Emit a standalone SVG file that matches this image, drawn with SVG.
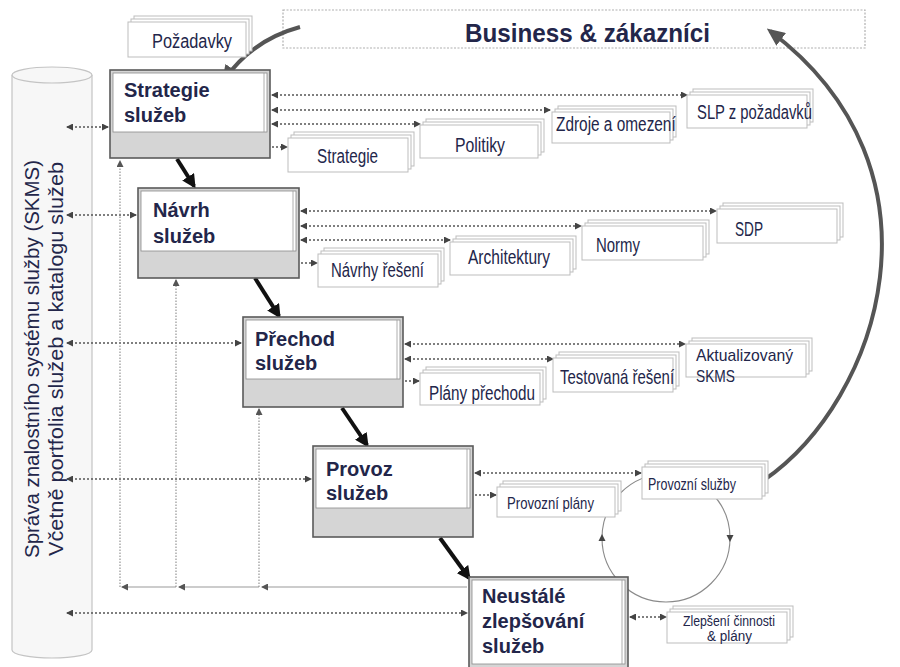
<svg xmlns="http://www.w3.org/2000/svg" width="900" height="667" viewBox="0 0 900 667">
  <style>
    .bg { fill: #ffffff; }
    .cyl { fill: #f7f7f7; stroke: #c4c4c4; stroke-width: 1.2; }
    .cyltext { font-family: "Liberation Sans", "DejaVu Sans", sans-serif; font-size: 21px; fill: #23264a; }
    .proc-outer { fill: #d5d5d5; stroke: #5a5a5a; stroke-width: 1.6; }
    .proc-inner { fill: #ffffff; stroke: #8a8a8a; stroke-width: 0.8; }
    .proc-title { font-family: "Liberation Sans", "Open Sans", sans-serif; font-weight: bold; font-size: 20px; fill: #23264a; }
    .doc { fill: #ffffff; stroke: #bdbdbd; stroke-width: 1; }
    .doclabel { font-family: "Liberation Sans", "DejaVu Sans", sans-serif; font-size: 20px; fill: #23264a; }
    .small { font-size: 17px; }
    .tiny { font-size: 14px; }
    .biz { fill: #ffffff; stroke: #b0b0b0; stroke-width: 1.2; stroke-dasharray: 2 1.5; }
    .biztext { font-family: "Liberation Sans", "Open Sans", sans-serif; font-weight: bold; font-size: 25px; fill: #23264a; }
    .dot { fill: none; stroke: #555555; stroke-width: 1.6; stroke-dasharray: 2 2; }
    .fb { fill: none; stroke: #8a8a8a; stroke-width: 1.1; stroke-dasharray: 1.5 1.5; }
    .fbh { fill: none; stroke: #9a9a9a; stroke-width: 1.1; }
    .flow { fill: none; stroke: #111111; stroke-width: 4; }
    .curve { fill: none; stroke: #555555; stroke-width: 4; }
    .cycle { fill: none; stroke: #8a8a8a; stroke-width: 1.1; }
  </style>
  <defs>
    <marker id="ah" markerUnits="userSpaceOnUse" markerWidth="7" markerHeight="7" refX="6" refY="3.5" orient="auto-start-reverse">
      <path d="M0,0 L7,3.5 L0,7 z" fill="#444444"/>
    </marker>
    <marker id="ahLight" markerUnits="userSpaceOnUse" markerWidth="7" markerHeight="7" refX="6" refY="3.5" orient="auto-start-reverse">
      <path d="M0,0 L7,3.5 L0,7 z" fill="#555555"/>
    </marker>
    <marker id="ahBlack" markerUnits="userSpaceOnUse" markerWidth="14" markerHeight="14" refX="11" refY="7" orient="auto">
      <path d="M0,0 L14,7 L0,14 z" fill="#111111"/>
    </marker>
    <marker id="ahGray" markerUnits="userSpaceOnUse" markerWidth="18" markerHeight="16" refX="14" refY="8" orient="auto">
      <path d="M0,0 L18,8 L0,16 z" fill="#555555"/>
    </marker>
  </defs>

  <rect class="bg" x="0" y="0" width="900" height="667"/>

  <!-- knowledge management store -->
  <g id="skms">
    <path class="cyl" d="M12,75 L12,650 A40,8 0 0 0 92,650 L92,75"/>
    <ellipse class="cyl" cx="52" cy="75" rx="40" ry="8"/>
    <text class="cyltext" transform="translate(39,558) rotate(-90)" textLength="398" lengthAdjust="spacingAndGlyphs">Správa znalostního systému služby (SKMS)</text>
    <text class="cyltext" transform="translate(63,556) rotate(-90)" textLength="394" lengthAdjust="spacingAndGlyphs">Včetně portfolia služeb a katalogu služeb</text>
  </g>

  <!-- business -->
  <g id="business">
    <rect class="biz" x="283" y="10" width="582" height="38"/>
    <text class="biztext" x="465" y="42" textLength="245" lengthAdjust="spacingAndGlyphs">Business &amp; zákazníci</text>
  </g>

  <!-- connectors -->
  <g id="connectors">
    <!-- store links -->
    <line class="dot" x1="67" y1="127" x2="108" y2="127" marker-start="url(#ah)" marker-end="url(#ah)"/>
    <line class="dot" x1="67" y1="215" x2="136" y2="215" marker-start="url(#ah)" marker-end="url(#ah)"/>
    <line class="dot" x1="67" y1="343" x2="241" y2="343" marker-start="url(#ah)" marker-end="url(#ah)"/>
    <line class="dot" x1="67" y1="479" x2="311" y2="479" marker-start="url(#ah)" marker-end="url(#ah)"/>
    <line class="dot" x1="67" y1="613" x2="467" y2="613" marker-start="url(#ah)" marker-end="url(#ah)"/>

    <!-- strategy outputs -->
    <line class="dot" x1="272" y1="95" x2="687" y2="95" marker-start="url(#ah)" marker-end="url(#ah)"/>
    <line class="dot" x1="272" y1="110" x2="550" y2="110" marker-start="url(#ah)" marker-end="url(#ah)"/>
    <line class="dot" x1="272" y1="124" x2="420" y2="124" marker-start="url(#ah)" marker-end="url(#ah)"/>
    <line class="dot" x1="272" y1="147" x2="287" y2="147" marker-end="url(#ah)"/>

    <!-- design outputs -->
    <line class="dot" x1="301" y1="211" x2="716" y2="211" marker-start="url(#ah)" marker-end="url(#ah)"/>
    <line class="dot" x1="301" y1="226" x2="581" y2="226" marker-start="url(#ah)" marker-end="url(#ah)"/>
    <line class="dot" x1="301" y1="240" x2="450" y2="240" marker-start="url(#ah)" marker-end="url(#ah)"/>
    <line class="dot" x1="301" y1="263" x2="317" y2="263" marker-end="url(#ah)"/>

    <!-- transition outputs -->
    <line class="dot" x1="405" y1="344" x2="685" y2="344" marker-start="url(#ah)" marker-end="url(#ah)"/>
    <line class="dot" x1="405" y1="359" x2="553" y2="359" marker-start="url(#ah)" marker-end="url(#ah)"/>
    <line class="dot" x1="405" y1="381" x2="419" y2="381" marker-end="url(#ah)"/>

    <!-- operation outputs -->
    <line class="dot" x1="475" y1="473" x2="641" y2="473" marker-start="url(#ah)" marker-end="url(#ah)"/>
    <line class="dot" x1="475" y1="495" x2="496" y2="495" marker-end="url(#ah)"/>

    <!-- improvement outputs -->
    <line class="dot" x1="630" y1="617" x2="666" y2="617" marker-start="url(#ah)" marker-end="url(#ah)"/>

    <!-- improvement feedback -->
    <line class="fbh" x1="467" y1="587" x2="262" y2="587" marker-end="url(#ahLight)"/>
    <line class="fbh" x1="259" y1="587" x2="179" y2="587" marker-end="url(#ahLight)"/>
    <line class="fbh" x1="176" y1="587" x2="122" y2="587" marker-end="url(#ahLight)"/>
    <line class="fb" x1="120" y1="587" x2="120" y2="161" marker-end="url(#ahLight)"/>
    <line class="fb" x1="176" y1="587" x2="176" y2="280" marker-end="url(#ahLight)"/>
    <line class="fb" x1="259" y1="587" x2="259" y2="409" marker-end="url(#ahLight)"/>

    <!-- operation / improvement cycle -->
    <circle class="cycle" cx="666" cy="538" r="64"/>
    <path d="M602,534 L598.5,541 L605.5,541 z" fill="#444444"/>
    <path d="M730,542 L726.5,535 L733.5,535 z" fill="#444444"/>

    <!-- lifecycle flow -->
    <line class="flow" x1="177" y1="159" x2="194" y2="186" marker-end="url(#ahBlack)"/>
    <line class="flow" x1="255" y1="278" x2="279" y2="316" marker-end="url(#ahBlack)"/>
    <line class="flow" x1="342" y1="408" x2="367" y2="445" marker-end="url(#ahBlack)"/>
    <line class="flow" x1="440" y1="538" x2="469" y2="578" marker-end="url(#ahBlack)"/>

    <!-- business loop -->
    <path class="curve" d="M300,27 Q252,40 224,80" marker-end="url(#ahGray)"/>
    <path class="curve" d="M764,480 C880,400 955,170 770,31" marker-end="url(#ahGray)"/>
  </g>

  <!-- document stacks -->
  <g id="doc-pozadavky">
    <rect class="doc" x="134" y="16" width="118" height="35"/>
    <rect class="doc" x="131" y="19" width="118" height="35"/>
    <rect class="doc" x="128" y="22" width="118" height="35"/>
    <text class="doclabel" x="152" y="48" textLength="80" lengthAdjust="spacingAndGlyphs">Požadavky</text>
  </g>
  <g id="doc-strategie">
    <rect class="doc" x="294" y="132" width="120" height="34"/>
    <rect class="doc" x="291" y="135" width="120" height="34"/>
    <rect class="doc" x="288" y="138" width="120" height="34"/>
    <text class="doclabel" x="317" y="163" textLength="61" lengthAdjust="spacingAndGlyphs">Strategie</text>
  </g>
  <g id="doc-politiky">
    <rect class="doc" x="426" y="119" width="118" height="33"/>
    <rect class="doc" x="423" y="122" width="118" height="33"/>
    <rect class="doc" x="420" y="125" width="118" height="33"/>
    <text class="doclabel" x="455" y="152" textLength="50" lengthAdjust="spacingAndGlyphs">Politiky</text>
  </g>
  <g id="doc-zdroje">
    <rect class="doc" x="558" y="106" width="118" height="31"/>
    <rect class="doc" x="555" y="109" width="118" height="31"/>
    <rect class="doc" x="552" y="112" width="118" height="31"/>
    <text class="doclabel" transform="translate(556,131) scale(0.77,1)">Zdroje a omezení</text>
  </g>
  <g id="doc-slp">
    <rect class="doc" x="693" y="89" width="120" height="33"/>
    <rect class="doc" x="690" y="92" width="120" height="33"/>
    <rect class="doc" x="687" y="95" width="120" height="33"/>
    <text class="doclabel" x="697" y="119" textLength="115" lengthAdjust="spacingAndGlyphs">SLP z požadavků</text>
  </g>
  <g id="doc-navrhy">
    <rect class="doc" x="324" y="248" width="120" height="33"/>
    <rect class="doc" x="321" y="251" width="120" height="33"/>
    <rect class="doc" x="318" y="254" width="120" height="33"/>
    <text class="doclabel" x="331" y="277" textLength="93" lengthAdjust="spacingAndGlyphs">Návrhy řešení</text>
  </g>
  <g id="doc-architektury">
    <rect class="doc" x="456" y="236" width="120" height="33"/>
    <rect class="doc" x="453" y="239" width="120" height="33"/>
    <rect class="doc" x="450" y="242" width="120" height="33"/>
    <text class="doclabel" x="468" y="264" textLength="82" lengthAdjust="spacingAndGlyphs">Architektury</text>
  </g>
  <g id="doc-normy">
    <rect class="doc" x="588" y="220" width="121" height="34"/>
    <rect class="doc" x="585" y="223" width="121" height="34"/>
    <rect class="doc" x="582" y="226" width="121" height="34"/>
    <text class="doclabel" x="596" y="252" textLength="44" lengthAdjust="spacingAndGlyphs">Normy</text>
  </g>
  <g id="doc-sdp">
    <rect class="doc" x="723" y="203" width="120" height="34"/>
    <rect class="doc" x="720" y="206" width="120" height="34"/>
    <rect class="doc" x="717" y="209" width="120" height="34"/>
    <text class="doclabel" x="735" y="236" textLength="28" lengthAdjust="spacingAndGlyphs">SDP</text>
  </g>
  <g id="doc-plany-prechodu">
    <rect class="doc" x="426" y="367" width="120" height="32"/>
    <rect class="doc" x="423" y="370" width="120" height="32"/>
    <rect class="doc" x="420" y="373" width="120" height="32"/>
    <text class="doclabel" x="429" y="400" textLength="106" lengthAdjust="spacingAndGlyphs">Plány přechodu</text>
  </g>
  <g id="doc-testovana">
    <rect class="doc" x="559" y="352" width="120" height="34"/>
    <rect class="doc" x="556" y="355" width="120" height="34"/>
    <rect class="doc" x="553" y="358" width="120" height="34"/>
    <text class="doclabel" transform="translate(560,384) scale(0.75,1)">Testovaná řešení</text>
  </g>
  <g id="doc-aktualizovany">
    <rect class="doc" x="692" y="338" width="120" height="33"/>
    <rect class="doc" x="689" y="341" width="120" height="33"/>
    <rect class="doc" x="686" y="344" width="120" height="33"/>
    <text class="doclabel small" x="696" y="361" textLength="97" lengthAdjust="spacingAndGlyphs">Aktualizovaný</text>
    <text class="doclabel small" x="696" y="382" textLength="39" lengthAdjust="spacingAndGlyphs">SKMS</text>
  </g>
  <g id="doc-provozni-plany">
    <rect class="doc" x="503" y="481" width="118" height="30"/>
    <rect class="doc" x="500" y="484" width="118" height="30"/>
    <rect class="doc" x="497" y="487" width="118" height="30"/>
    <text class="doclabel small" x="507" y="509" textLength="87" lengthAdjust="spacingAndGlyphs">Provozní plány</text>
  </g>
  <g id="doc-provozni-sluzby">
    <rect class="doc" x="648" y="461" width="120" height="32"/>
    <rect class="doc" x="645" y="464" width="120" height="32"/>
    <rect class="doc" x="642" y="467" width="120" height="32"/>
    <text class="doclabel small" x="648" y="490" textLength="88" lengthAdjust="spacingAndGlyphs">Provozní služby</text>
  </g>
  <g id="doc-zlepseni">
    <rect class="doc" x="673" y="606" width="120" height="31"/>
    <rect class="doc" x="670" y="609" width="120" height="31"/>
    <rect class="doc" x="667" y="612" width="120" height="31"/>
    <text class="doclabel tiny" x="683" y="626" textLength="92" lengthAdjust="spacingAndGlyphs">Zlepšení činnosti</text>
    <text class="doclabel tiny" x="707" y="641" textLength="45" lengthAdjust="spacingAndGlyphs">&amp; plány</text>
  </g>

  <!-- lifecycle stages -->
  <g id="strategie-sluzeb">
    <rect class="proc-outer" x="110" y="70" width="160" height="88"/>
    <rect class="proc-inner" x="113" y="73" width="154" height="59"/>
    <line x1="264" y1="73" x2="264" y2="132" stroke="#9a9a9a" stroke-width="0.8"/>
    <text class="proc-title" x="124" y="97">Strategie</text>
    <text class="proc-title" x="124" y="122">služeb</text>
  </g>
  <g id="navrh-sluzeb">
    <rect class="proc-outer" x="138" y="188" width="161" height="90"/>
    <rect class="proc-inner" x="141" y="191" width="155" height="60"/>
    <line x1="293" y1="191" x2="293" y2="251" stroke="#9a9a9a" stroke-width="0.8"/>
    <text class="proc-title" x="153" y="217">Návrh</text>
    <text class="proc-title" x="153" y="243">služeb</text>
  </g>
  <g id="prechod-sluzeb">
    <rect class="proc-outer" x="243" y="317" width="160" height="90"/>
    <rect class="proc-inner" x="246" y="320" width="154" height="59"/>
    <line x1="397" y1="320" x2="397" y2="379" stroke="#9a9a9a" stroke-width="0.8"/>
    <text class="proc-title" x="255" y="346">Přechod</text>
    <text class="proc-title" x="255" y="370">služeb</text>
  </g>
  <g id="provoz-sluzeb">
    <rect class="proc-outer" x="313" y="446" width="160" height="91"/>
    <rect class="proc-inner" x="316" y="449" width="154" height="59"/>
    <line x1="467" y1="449" x2="467" y2="508" stroke="#9a9a9a" stroke-width="0.8"/>
    <text class="proc-title" x="326" y="476">Provoz</text>
    <text class="proc-title" x="326" y="500">služeb</text>
  </g>
  <g id="neustale-zlepsovani">
    <rect class="proc-outer" x="469" y="577" width="159" height="91"/>
    <rect class="proc-inner" x="472" y="580" width="153" height="84"/>
    <line x1="622" y1="580" x2="622" y2="664" stroke="#9a9a9a" stroke-width="0.8"/>
    <text class="proc-title" x="482" y="603">Neustálé</text>
    <text class="proc-title" x="482" y="628">zlepšování</text>
    <text class="proc-title" x="482" y="653">služeb</text>
  </g>
</svg>
